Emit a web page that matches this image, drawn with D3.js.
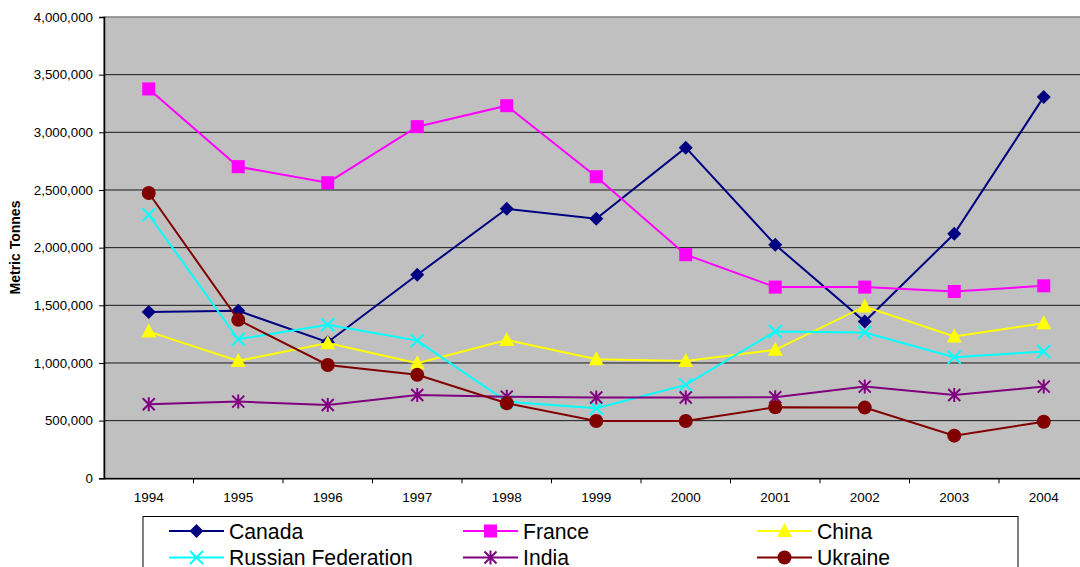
<!DOCTYPE html>
<html>
<head>
<meta charset="utf-8">
<script src="https://cdn.jsdelivr.net/npm/d3@7"></script>
<style>
  body { margin: 0; background: #fff; overflow: hidden; }
  svg { display: block; font-family: "Liberation Sans", Arial, sans-serif; }
</style>
</head>
<body>
<script>
// jaren op de x-as
var years = ['1994', '1995', '1996', '1997', '1998', '1999', '2000', '2001', '2002', '2003', '2004'];

// waarden per land (metric tonnes)
var canada  = [1443000, 1452000, 1180000, 1765000, 2337000, 2250000, 2867000, 2025000, 1359000, 2120000, 3307000];
var france  = [3376000, 2702000, 2563000, 3049000, 3231000, 2615000, 1939000, 1658000, 1658000, 1620000, 1669000];
var china   = [1272000, 1018000, 1172000, 998000, 1200000, 1033000, 1018000, 1114000, 1490000, 1229000, 1345000];
var russia  = [2285000, 1206000, 1331000, 1194000, 665000, 608000, 810000, 1273000, 1264000, 1050000, 1099000];
var india   = [642000, 665000, 636000, 723000, 708000, 700000, 700000, 703000, 795000, 723000, 795000];
var ukraine = [2474000, 1374000, 983000, 897000, 651000, 497000, 497000, 616000, 613000, 370000, 491000];

var yTicks = [0, 500000, 1000000, 1500000, 2000000, 2500000, 3000000, 3500000, 4000000];

var series = [
    { name: 'Canada', values: canada, color: '#000080', marker: 'diamond' },
    { name: 'France', values: france, color: '#ff00ff', marker: 'square' },
    { name: 'China', values: china, color: '#ffff00', marker: 'triangle' },
    { name: 'Russian Federation', values: russia, color: '#00ffff', marker: 'x' },
    { name: 'India', values: india, color: '#800080', marker: 'star' },
    { name: 'Ukraine', values: ukraine, color: '#800000', marker: 'circle' }
];

var width = 1080, height = 567;
var svg = d3.select('body').append('svg')
    .attr('width', width)
    .attr('height', height);

// plot gebied (loopt rechts net buiten beeld, zoals in het origineel)
var plotLeft = 104, plotTop = 17, plotBottom = 478.3, band = 89.5;
var plotRight = plotLeft + band * years.length;

var xScale = d3.scaleBand()
    .domain(years)
    .range([plotLeft, plotRight]);

var yScale = d3.scaleLinear()
    .domain([0, 4000000])
    .range([plotBottom, plotTop]);

// plot achtergrond
svg.append('rect')
    .attr('x', plotLeft).attr('y', plotTop)
    .attr('width', plotRight - plotLeft).attr('height', plotBottom - plotTop)
    .attr('fill', '#c0c0c0')
    .attr('stroke', '#808080')
    .attr('stroke-width', 1.5);

// gridlines
svg.selectAll('line.grid').data(yTicks.slice(1, -1))
    .enter().append('line')
    .attr('class', 'grid')
    .attr('x1', plotLeft).attr('x2', plotRight)
    .attr('y1', function (d) { return yScale(d); })
    .attr('y2', function (d) { return yScale(d); })
    .attr('stroke', '#1a1a1a')
    .attr('stroke-width', 1);

// y-as
var yAxis = svg.append('g')
    .attr('transform', 'translate(' + plotLeft + ',0)')
    .call(d3.axisLeft(yScale).tickValues(yTicks).tickSize(5).tickPadding(6)
        .tickFormat(d3.format(',')));
yAxis.selectAll('text').style('font-size', '13.3px').attr('fill', '#000');
yAxis.selectAll('line').attr('stroke', '#000');
yAxis.select('.domain').attr('stroke', '#000').attr('stroke-width', 1.5);

// x-as
var xAxis = svg.append('g')
    .attr('transform', 'translate(0,' + plotBottom + ')')
    .call(d3.axisBottom(xScale).tickSize(0).tickPadding(14));
xAxis.selectAll('text').style('font-size', '13.5px').attr('fill', '#000');
xAxis.select('.domain').attr('stroke', '#000').attr('stroke-width', 1.5);
// tick streepjes tussen de categorieen
xAxis.selectAll('line.sep').data(years.slice(1))
    .enter().append('line')
    .attr('class', 'sep')
    .attr('x1', function (d) { return xScale(d); })
    .attr('x2', function (d) { return xScale(d); })
    .attr('y1', 0).attr('y2', 5)
    .attr('stroke', '#000');

// y-as titel
svg.append('text')
    .attr('transform', 'translate(20,247.5) rotate(-90)')
    .attr('text-anchor', 'middle')
    .style('font-size', '14px')
    .style('font-weight', 'bold')
    .text('Metric Tonnes');

var cx = function (i) { return xScale(years[i]) + xScale.bandwidth() / 2; };

function drawMarker(g, type, color) {
    if (type === 'diamond') {
        g.append('path').attr('d', 'M0,-7L7,0L0,7L-7,0Z').attr('fill', color);
    } else if (type === 'square') {
        g.append('rect').attr('x', -6.5).attr('y', -6.5).attr('width', 13).attr('height', 13).attr('fill', color);
    } else if (type === 'triangle') {
        g.append('path').attr('d', 'M0,-8L7.5,6L-7.5,6Z').attr('fill', color);
    } else if (type === 'circle') {
        g.append('circle').attr('r', 7).attr('fill', color);
    } else if (type === 'x') {
        g.append('path').attr('d', 'M-6.5,-6.5L6.5,6.5M6.5,-6.5L-6.5,6.5')
            .attr('stroke', color).attr('stroke-width', 2);
    } else if (type === 'star') {
        g.append('path').attr('d', 'M-6,-6L6,6M6,-6L-6,6M0,-7L0,7')
            .attr('stroke', color).attr('stroke-width', 2);
    }
}

var line = d3.line()
    .x(function (d, i) { return cx(i); })
    .y(function (d) { return yScale(d); });

series.forEach(function (s) {
    svg.append('path')
        .datum(s.values)
        .attr('d', line)
        .attr('fill', 'none')
        .attr('stroke', s.color)
        .attr('stroke-width', 2);
    s.values.forEach(function (v, i) {
        var g = svg.append('g').attr('transform', 'translate(' + cx(i) + ',' + yScale(v) + ')');
        drawMarker(g, s.marker, s.color);
    });
});

// legenda
var legend = svg.append('g');
legend.append('rect')
    .attr('x', 143).attr('y', 516.5)
    .attr('width', 875).attr('height', 60)
    .attr('fill', '#fff')
    .attr('stroke', '#000')
    .attr('stroke-width', 1);

var colX = [169, 463, 757];
var rowY = [531, 557.5];
series.forEach(function (s, i) {
    var x = colX[i % 3], y = rowY[Math.floor(i / 3)];
    legend.append('line')
        .attr('x1', x).attr('x2', x + 55)
        .attr('y1', y).attr('y2', y)
        .attr('stroke', s.color).attr('stroke-width', 2);
    var g = legend.append('g').attr('transform', 'translate(' + (x + 27.5) + ',' + y + ')');
    drawMarker(g, s.marker, s.color);
    legend.append('text')
        .attr('x', x + 60).attr('y', y + 7.5)
        .style('font-size', '21.2px')
        .text(s.name);
});
</script>
</body>
</html>
